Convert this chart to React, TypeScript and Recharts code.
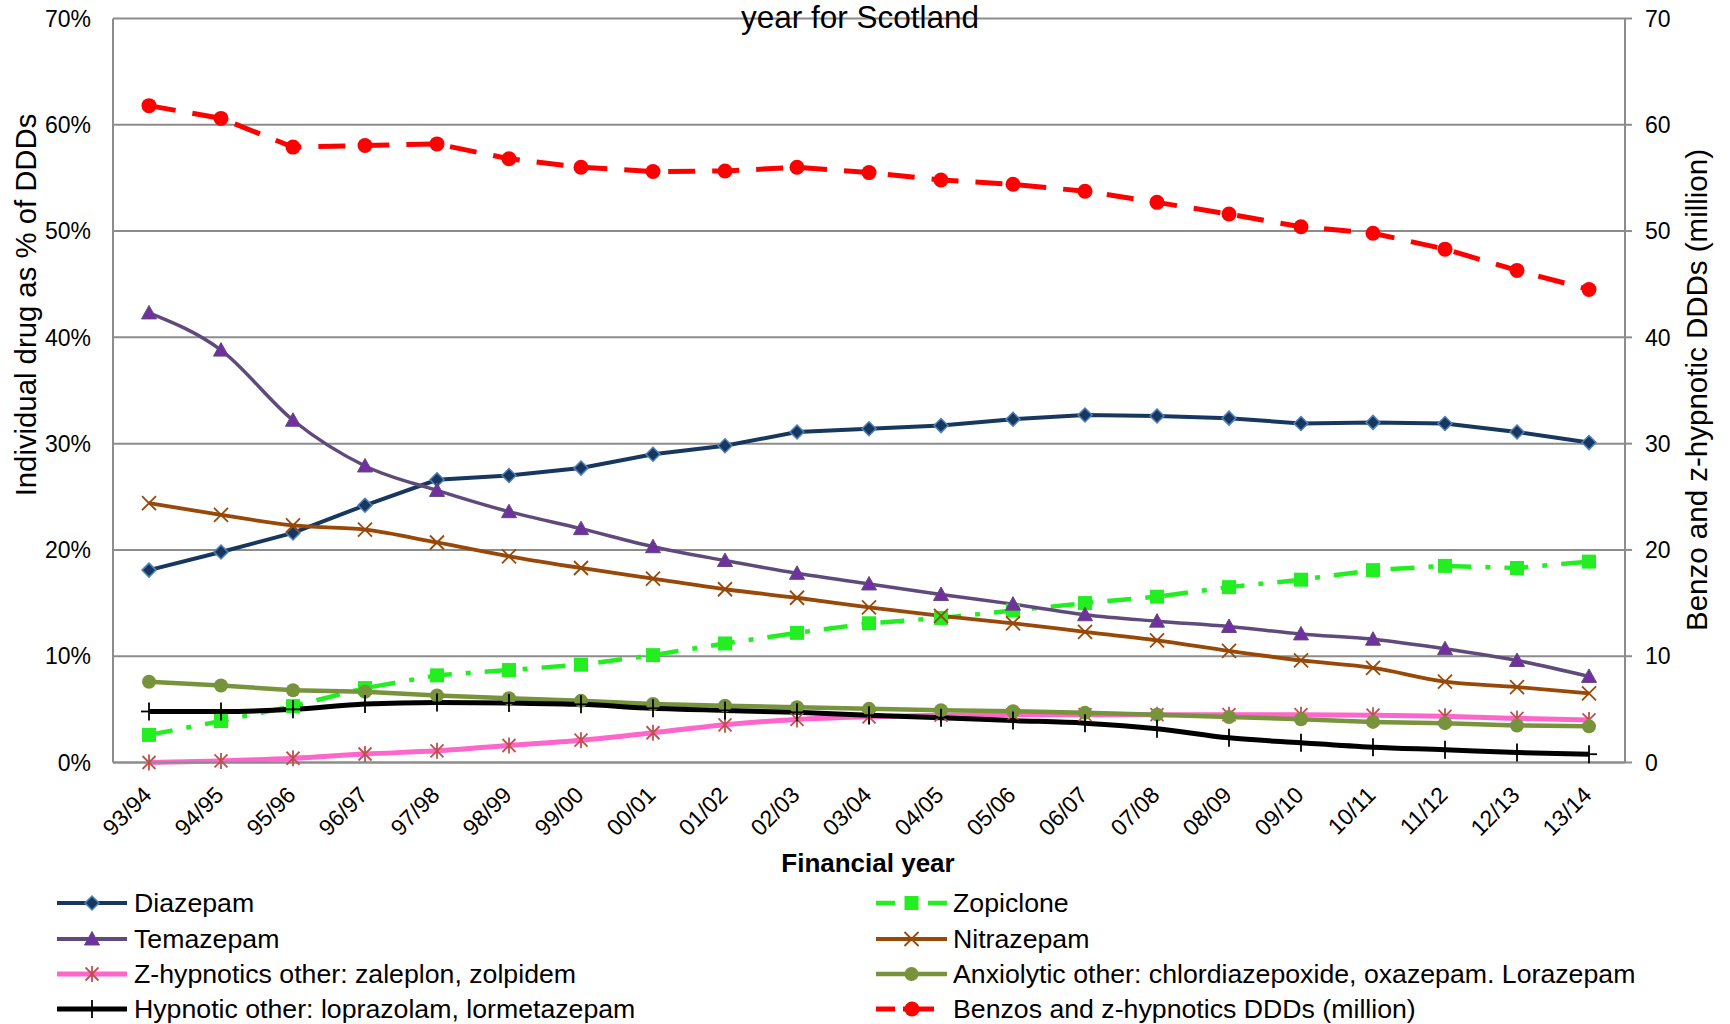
import React from 'react';
import { LineChart, Line, XAxis, YAxis, CartesianGrid } from 'recharts';

const FONT = '"Liberation Sans", Arial, Helvetica, sans-serif';

const years = ['93/94','94/95','95/96','96/97','97/98','98/99','99/00','00/01','01/02','02/03','03/04','04/05','05/06','06/07','07/08','08/09','09/10','10/11','11/12','12/13','13/14'];
const diazepam = [18.1, 19.8, 21.6, 24.2, 26.6, 27.0, 27.7, 29.0, 29.8, 31.1, 31.4, 31.7, 32.3, 32.7, 32.6, 32.4, 31.9, 32.0, 31.9, 31.1, 30.1];
const zopiclone = [2.6, 3.9, 5.3, 7.0, 8.2, 8.7, 9.2, 10.1, 11.2, 12.2, 13.1, 13.6, 14.3, 15.0, 15.6, 16.5, 17.2, 18.1, 18.5, 18.3, 18.9];
const temazepam = [42.3, 38.8, 32.2, 27.9, 25.6, 23.6, 22.0, 20.3, 19.0, 17.8, 16.8, 15.8, 14.9, 13.9, 13.3, 12.8, 12.1, 11.6, 10.7, 9.6, 8.1];
const nitrazepam = [24.4, 23.3, 22.3, 21.9, 20.7, 19.4, 18.3, 17.3, 16.3, 15.5, 14.6, 13.8, 13.1, 12.3, 11.5, 10.5, 9.6, 8.9, 7.6, 7.1, 6.5];
const zHypnotics = [0.0, 0.15, 0.4, 0.8, 1.1, 1.6, 2.1, 2.8, 3.55, 4.05, 4.3, 4.45, 4.5, 4.5, 4.5, 4.5, 4.5, 4.45, 4.35, 4.15, 4.0];
const anxiolytic = [7.6, 7.25, 6.8, 6.65, 6.3, 6.05, 5.8, 5.5, 5.35, 5.2, 5.05, 4.92, 4.83, 4.67, 4.5, 4.28, 4.07, 3.82, 3.7, 3.48, 3.4];
const hypnoticOther = [4.8, 4.8, 5.0, 5.5, 5.65, 5.6, 5.47, 5.1, 4.9, 4.72, 4.45, 4.22, 3.95, 3.7, 3.18, 2.32, 1.85, 1.43, 1.2, 0.93, 0.78];
const benzos = [61.8, 60.6, 57.9, 58.05, 58.2, 56.8, 56.0, 55.6, 55.65, 56.0, 55.5, 54.8, 54.4, 53.75, 52.7, 51.6, 50.4, 49.8, 48.3, 46.3, 44.5];

const yTicks = [0, 10, 20, 30, 40, 50, 60, 70];

const data = years.map((year, i) => ({
  year,
  diazepam: diazepam[i],
  zopiclone: zopiclone[i],
  temazepam: temazepam[i],
  nitrazepam: nitrazepam[i],
  zHypnotics: zHypnotics[i],
  anxiolytic: anxiolytic[i],
  hypnoticOther: hypnoticOther[i],
  benzos: benzos[i],
}));

const GRID = '#8c8c8c';

// marker shapes
const diamond = (cx: number, cy: number, k?: any) => (
  <polygon key={k} points={`${cx},${cy - 7} ${cx + 7},${cy} ${cx},${cy + 7} ${cx - 7},${cy}`} fill="#17375E" stroke="#4F81BD" strokeWidth={1.5} />
);
const triangle = (cx: number, cy: number, k?: any) => (
  <polygon key={k} points={`${cx},${cy - 7.5} ${cx + 7.5},${cy + 6} ${cx - 7.5},${cy + 6}`} fill="#7030A0" stroke="#604A7B" strokeWidth={1} />
);
const square = (cx: number, cy: number, k?: any) => (
  <rect key={k} x={cx - 7} y={cy - 7} width={14} height={14} fill="#22EE22" />
);
const xMark = (cx: number, cy: number, k?: any) => (
  <g key={k} stroke="#984807" strokeWidth={1.8}>
    <line x1={cx - 7} y1={cy - 7} x2={cx + 7} y2={cy + 7} />
    <line x1={cx - 7} y1={cy + 7} x2={cx + 7} y2={cy - 7} />
  </g>
);
const star = (cx: number, cy: number, k?: any) => (
  <g key={k} stroke="#C0504D" strokeWidth={1.8}>
    <line x1={cx} y1={cy - 8} x2={cx} y2={cy + 8} />
    <line x1={cx - 6.5} y1={cy - 6.5} x2={cx + 6.5} y2={cy + 6.5} />
    <line x1={cx - 6.5} y1={cy + 6.5} x2={cx + 6.5} y2={cy - 6.5} />
  </g>
);
const plus = (cx: number, cy: number, k?: any) => (
  <g key={k} stroke="#000" strokeWidth={1.8}>
    <line x1={cx} y1={cy - 9} x2={cx} y2={cy + 9} />
    <line x1={cx - 8} y1={cy} x2={cx + 8} y2={cy} />
  </g>
);
const olive = (cx: number, cy: number, k?: any) => (
  <circle key={k} cx={cx} cy={cy} r={7} fill="#77933C" />
);
const redDot = (cx: number, cy: number, k?: any) => (
  <circle key={k} cx={cx} cy={cy} r={7.5} fill="#FF0000" />
);

const dotOf = (fn: (cx: number, cy: number, k?: any) => React.ReactElement) => (p: any) => {
  if (p.cx == null || p.cy == null) return <g key={p.index} />;
  return fn(p.cx, p.cy, p.index);
};

const XTick = (props: any) => {
  const { x, y, payload } = props;
  const ex = x + 4;
  return (
    <text x={ex} y={y} textAnchor="end" transform={`rotate(-45 ${ex} ${y})`} fontSize={23} fill="#000" fontFamily={FONT}>
      {payload.value}
    </text>
  );
};

const leftRows = [
  { label: 'Diazepam', color: '#17375E', width: 4, marker: diamond },
  { label: 'Temazepam', color: '#604A7B', width: 4, marker: triangle },
  { label: 'Z-hypnotics other: zaleplon, zolpidem', color: '#FF66CC', width: 5, marker: star },
  { label: 'Hypnotic other: loprazolam, lormetazepam', color: '#000000', width: 5, marker: plus },
];
const rightRows = [
  { label: 'Zopiclone', color: '#22EE22', width: 4.5, marker: square, kind: 'dashdot' },
  { label: 'Nitrazepam', color: '#984807', width: 4, marker: xMark },
  { label: 'Anxiolytic other: chlordiazepoxide, oxazepam. Lorazepam', color: '#77933C', width: 4.5, marker: olive },
  { label: 'Benzos and z-hypnotics DDDs (million)', color: '#FF0000', width: 5, marker: redDot, kind: 'dash' },
];
const rowY = [903, 939, 974, 1009];

const LegendOverlay = () => (
  <svg width={1730} height={1024} style={{ position: 'absolute', left: 0, top: 0, pointerEvents: 'none' }}>
    {leftRows.map((r, i) => (
      <g key={'l' + i}>
        <line x1={57} x2={127} y1={rowY[i]} y2={rowY[i]} stroke={r.color} strokeWidth={r.width} />
        {r.marker(92, rowY[i])}
        <text x={134} y={rowY[i]} dominantBaseline="central" fontSize={26.7} fontFamily={FONT} fill="#000">{r.label}</text>
      </g>
    ))}
    {rightRows.map((r, i) => (
      <g key={'r' + i}>
        {r.kind === 'dashdot' ? (
          <g>
            <line x1={876} x2={895} y1={rowY[i]} y2={rowY[i]} stroke={r.color} strokeWidth={r.width} />
            <line x1={928} x2={947} y1={rowY[i]} y2={rowY[i]} stroke={r.color} strokeWidth={r.width} />
          </g>
        ) : r.kind === 'dash' ? (
          <g>
            <line x1={876} x2={895} y1={rowY[i]} y2={rowY[i]} stroke={r.color} strokeWidth={r.width} />
            <line x1={903} x2={934} y1={rowY[i]} y2={rowY[i]} stroke={r.color} strokeWidth={r.width} />
          </g>
        ) : (
          <line x1={876} x2={947} y1={rowY[i]} y2={rowY[i]} stroke={r.color} strokeWidth={r.width} />
        )}
        {r.marker(r.kind === 'dash' ? 912 : 911.5, rowY[i])}
        <text x={953} y={rowY[i]} dominantBaseline="central" fontSize={26.7} fontFamily={FONT} fill="#000">{r.label}</text>
      </g>
    ))}
  </svg>
);

export default function App() {
  const tickStyle = { fill: '#000', fontSize: 23, fontFamily: FONT };
  return (
    <div style={{ position: 'absolute', left: 0, top: 0, width: 1730, height: 1024, background: '#fff', fontFamily: FONT }}>
      <LineChart width={1730} height={1024} data={data} margin={{ top: 18.5, right: 0, bottom: 0, left: 0 }}>
        <CartesianGrid vertical={false} stroke={GRID} strokeWidth={2} yAxisId="left" />
        <XAxis
          dataKey="year"
          interval={0}
          padding={{ left: 36, right: 36 }}
          height={261.5}
          tickLine={false}
          tickSize={0}
          tickMargin={34}
          axisLine={{ stroke: GRID, strokeWidth: 2 }}
          tick={<XTick />}
          label={{
            content: () => (
              <text x={868} y={872} textAnchor="middle" fontSize={26} fontWeight="bold" fontFamily={FONT} fill="#000">Financial year</text>
            ),
          }}
        />
        <YAxis
          yAxisId="left"
          width={113}
          domain={[0, 70]}
          ticks={yTicks}
          interval={0}
          tickFormatter={(v: number) => `${v}%`}
          tickLine={false}
          tickSize={12}
          tickMargin={10}
          axisLine={{ stroke: GRID, strokeWidth: 2 }}
          tick={tickStyle}
          label={{
            content: () => (
              <text x={36} y={305} textAnchor="middle" transform="rotate(-90 36 305)" fontSize={29.3} fontFamily={FONT} fill="#000">Individual drug as % of DDDs</text>
            ),
          }}
        />
        <YAxis
          yAxisId="right"
          orientation="right"
          width={105}
          domain={[0, 70]}
          ticks={yTicks}
          interval={0}
          tickLine={{ stroke: GRID, strokeWidth: 2 }}
          tickSize={7}
          tickMargin={13}
          axisLine={{ stroke: GRID, strokeWidth: 2 }}
          tick={tickStyle}
          label={{
            content: () => (
              <text x={1707} y={390} textAnchor="middle" transform="rotate(-90 1707 390)" fontSize={29.5} fontFamily={FONT} fill="#000">Benzo and z-hypnotic DDDs (million)</text>
            ),
          }}
        />
        <Line yAxisId="left" dataKey="diazepam" type="linear" stroke="#17375E" strokeWidth={4} dot={dotOf(diamond)} activeDot={false} isAnimationActive={false} />
        <Line yAxisId="left" dataKey="zopiclone" type="linear" stroke="#22EE22" strokeWidth={4.5} strokeDasharray="24 14 5 14" dot={dotOf(square)} activeDot={false} isAnimationActive={false} />
        <Line yAxisId="left" dataKey="temazepam" type="monotone" stroke="#604A7B" strokeWidth={3.5} dot={dotOf(triangle)} activeDot={false} isAnimationActive={false} />
        <Line yAxisId="left" dataKey="nitrazepam" type="monotone" stroke="#984807" strokeWidth={3.8} dot={dotOf(xMark)} activeDot={false} isAnimationActive={false} />
        <Line yAxisId="left" dataKey="zHypnotics" type="monotone" stroke="#FF66CC" strokeWidth={5} dot={dotOf(star)} activeDot={false} isAnimationActive={false} />
        <Line yAxisId="left" dataKey="anxiolytic" type="linear" stroke="#77933C" strokeWidth={4.5} dot={dotOf(olive)} activeDot={false} isAnimationActive={false} />
        <Line yAxisId="left" dataKey="hypnoticOther" type="monotone" stroke="#000000" strokeWidth={5} dot={dotOf(plus)} activeDot={false} isAnimationActive={false} />
        <Line yAxisId="right" dataKey="benzos" type="linear" stroke="#FF0000" strokeWidth={5} strokeDasharray="27 17" dot={dotOf(redDot)} activeDot={false} isAnimationActive={false} />
        <text x={860} y={28} textAnchor="middle" fontSize={31.5} fontFamily={FONT} fill="#000">year for Scotland</text>
      </LineChart>
      <LegendOverlay />
    </div>
  );
}
